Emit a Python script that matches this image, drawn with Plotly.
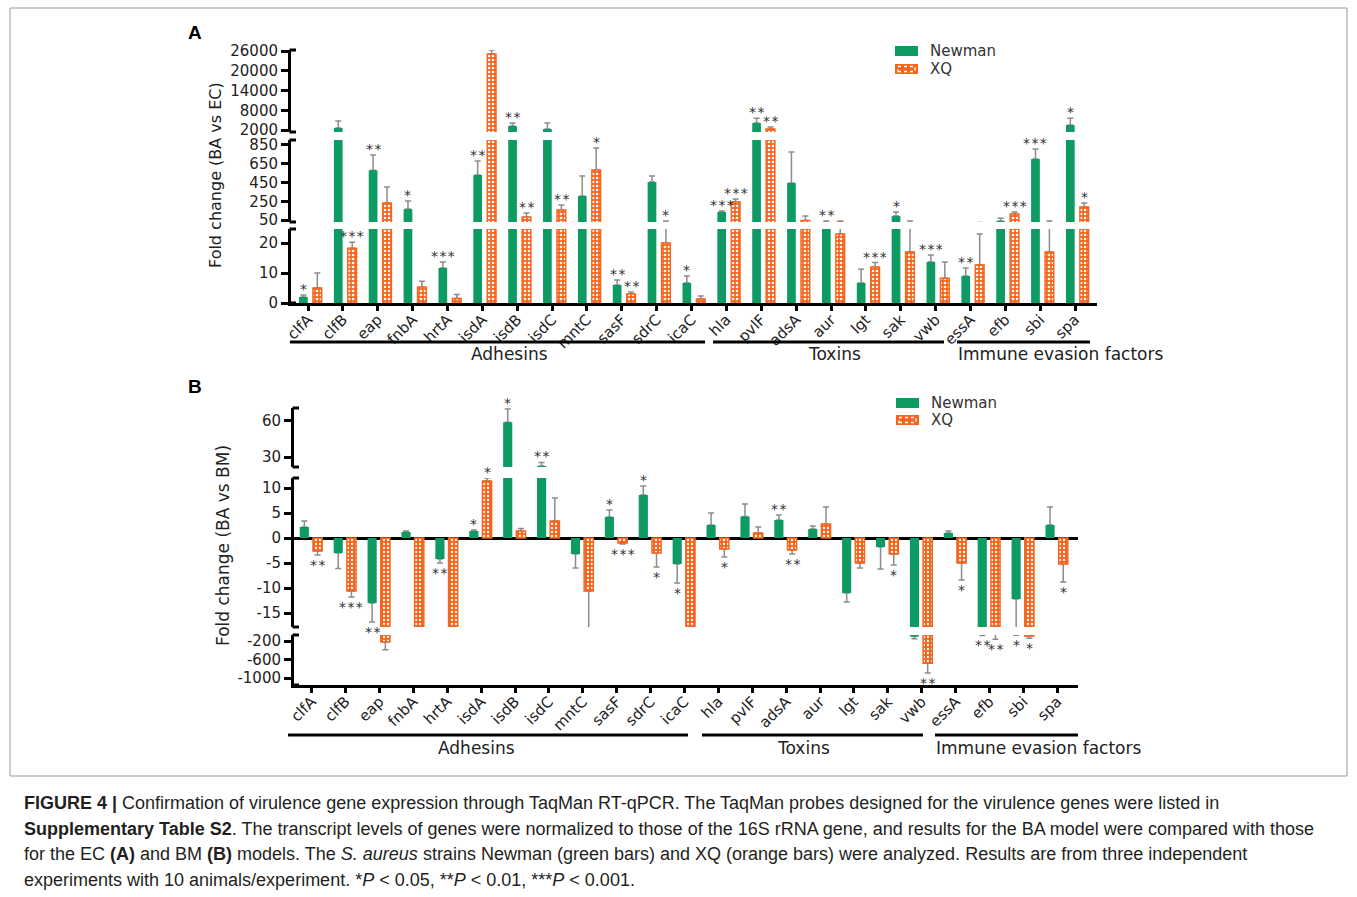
import plotly.graph_objects as go

W, H = 1357, 897

genes = ["clfA", "clfB", "eap", "fnbA", "hrtA", "isdA", "isdB", "isdC", "mntC", "sasF", "sdrC", "icaC",
         "hla", "pvlF", "adsA", "aur", "lgt", "sak", "vwb", "essA", "efb", "sbi", "spa"]

# ---- Panel A (BA vs EC) ----
a_newman = [2, 2600, 580, 167, 11.7, 530, 3200, 2300, 306, 6, 455, 6.7,
            135, 4100, 445, 27, 6.7, 92, 13.7, 9, 39, 700, 3500]
a_newman_tip = [2.7, 4740, 743, 252, 13.7, 680, 4100, 4100, 520, 7.7, 520, 9,
                145, 5600, 775, 39, 11.3, 135, 16, 11.7, 70, 807, 5600]
a_newman_sig = ["*", "", "**", "*", "***", "**", "**", "", "", "**", "", "*",
                "***", "**", "", "**", "", "*", "***", "**", "", "***", "*"]
a_xq = [5, 18.3, 231, 5.3, 1.5, 25100, 82, 156, 583, 3, 20, 1.3,
        242, 2300, 45, 23, 12, 17, 8.3, 12.7, 113, 17, 188]
a_xq_tip = [10, 20.3, 402, 7.3, 2.8, 26300, 125, 210, 818, 3.7, 39, 2.3,
            275, 2900, 93, 39, 13.5, 39, 13.7, 23, 135, 39, 231]
a_xq_sig = ["", "***", "", "", "", "", "**", "**", "*", "**", "*", "",
            "***", "**", "", "", "***", "", "", "", "***", "", "*"]

# ---- Panel B (BA vs BM) ----
b_newman = [2.2, -3, -13, 1.2, -4.2, 1.4, 59, 22.5, -3.2, 4.2, 8.6, -5.2,
            2.6, 4.3, 3.6, 1.8, -11, -1.8, -100, 1, -50, -12.2, 2.6]
b_newman_tip = [3.4, -6.1, -16.8, 1.4, -5, 1.6, 70, 25.5, -6, 5.6, 10.4, -9,
                5, 6.8, 4.6, 2.4, -12.8, -6.2, -150, 1.4, -80, -75, 6.2]
b_newman_sig = ["", "", "**", "", "**", "*", "*", "**", "", "*", "*", "*",
                "", "", "**", "", "", "", "", "", "**", "*", ""]
b_xq = [-2.6, -10.6, -220, -40, -40, 11.4, 1.4, 3.4, -10.6, -1, -3, -40,
        -2.2, 1, -2.4, 2.8, -5, -3.2, -680, -5, -50, -90, -5.2]
b_xq_tip = [-3.4, -11.8, -390, -40, -40, 12, 1.9, 8, -20, -1.2, -5.8, -40,
            -3.8, 2.2, -3.2, 6.2, -6, -5.4, -890, -8.4, -160, -140, -8.8]
b_xq_sig = ["**", "***", "", "", "", "*", "", "", "", "***", "*", "",
            "*", "", "**", "", "", "*", "**", "*", "**", "*", "*"]

a_ticks = [[0, 10, 20], [50, 250, 450, 650, 850], [2000, 8000, 14000, 20000, 26000]]
b_ticks = [[-1000, -600, -200], [-15, -10, -5, 0, 5, 10], [30, 60]]

groups = ["Adhesins", "Toxins", "Immune evasion factors"]

GREEN = "#0e9a63"
ORANGE = "#f4661f"
ERRC = "#8c8c8c"
FONT = "DejaVu Sans"
TXT = "#222222"


def px(x):
    return x / W


def py(y):
    return 1 - y / H


def ydom(top, bot):
    return [py(bot), py(top)]


panels = [
    dict(name="A", xdom=[px(291), px(1097)], xrange=[-0.49, 22.63], axis_x=291, solid=0.35,
         segs=[(ydom(229, 303), [0, 24.7], a_ticks[0]),
               (ydom(140, 222), [29, 903], a_ticks[1]),
               (ydom(50, 132), [1392, 26304], a_ticks[2])],
         series=[(a_newman, a_newman_tip, a_newman_sig, GREEN, False, -0.26, 0.25),
                 (a_xq, a_xq_tip, a_xq_sig, ORANGE, True, 0.14, 0.25)],
         seg_px=[(229, 303), (140, 222), (50, 132)]),
    dict(name="B", xdom=[px(294), px(1078)], xrange=[-0.52, 22.61], axis_x=294, solid=0.25,
         segs=[(ydom(635, 685), [-1151, -70], b_ticks[0]),
               (ydom(478, 627), [-17.8, 12], b_ticks[1]),
               (ydom(408, 467), [21.7, 70.8], b_ticks[2])],
         series=[(b_newman, b_newman_tip, b_newman_sig, GREEN, False, -0.35, 0.27),
                 (b_xq, b_xq_tip, b_xq_sig, ORANGE, True, 0.04, 0.27)],
         seg_px=[(635, 685), (478, 627), (408, 467)]),
]

fig = go.Figure()
layout = {}
annotations = []
shapes = []
idx = list(range(len(genes)))
aid = 0
for P in panels:
    sfxs = []
    for k, (dom, rng, ticks) in enumerate(P["segs"]):
        aid += 1
        sfx = "" if aid == 1 else str(aid)
        sfxs.append(sfx)
        xa = dict(domain=P["xdom"], range=P["xrange"], anchor="y" + sfx, showgrid=False,
                  zeroline=False, fixedrange=True)
        if k == 0:
            xa.update(showline=True, linecolor="black", linewidth=3, ticks="outside", ticklen=5,
                      tickwidth=2.5, tickcolor="black", tickvals=idx, ticktext=genes, tickangle=-45,
                      ticklabelstandoff=-6,
                      tickfont=dict(family=FONT, size=15, color=TXT))
        else:
            xa.update(visible=False)
        ya = dict(domain=dom, range=rng, anchor="x" + sfx, showline=True, linecolor="black",
                  linewidth=3, ticks="outside", ticklen=7, tickwidth=2.5, tickcolor="black",
                  tickvals=ticks, ticktext=[str(t) for t in ticks],
                  tickfont=dict(family=FONT, size=15, color=TXT),
                  showgrid=False, zeroline=False, fixedrange=True)
        if P["name"] == "B" and k == 1:
            ya.update(zeroline=True, zerolinecolor="black", zerolinewidth=3)
        layout["xaxis" + sfx] = xa
        layout["yaxis" + sfx] = ya

    for vals, tips, sig, color, patterned, off, wid in P["series"]:
        plus = [max(t - v, 0) for v, t in zip(vals, tips)]
        minus = [max(v - t, 0) for v, t in zip(vals, tips)]
        xs = [i + off + wid / 2 for i in idx]
        for sfx in sfxs:
            # error bars (drawn underneath the visible bars)
            fig.add_trace(go.Bar(x=idx, y=vals, offset=off, width=wid, xaxis="x" + sfx,
                                 yaxis="y" + sfx, marker=dict(color="rgba(0,0,0,0)", line=dict(width=0)),
                                 error_y=dict(type="data", symmetric=False, array=plus, arrayminus=minus,
                                              color=ERRC, thickness=1.5, width=3),
                                 showlegend=False, hoverinfo="skip"))
            if patterned:
                mk = dict(color=color, line=dict(color=color, width=1.5),
                          pattern=dict(shape=".", fillmode="replace", bgcolor=color,
                                       fgcolor="white", size=4, solidity=P["solid"]))
            else:
                mk = dict(color=color, line=dict(width=0))
            fig.add_trace(go.Bar(x=idx, y=vals, offset=off, width=wid, xaxis="x" + sfx,
                                 yaxis="y" + sfx, marker=mk, showlegend=False, hoverinfo="skip"))
        # significance stars
        for i, (v, t, s) in enumerate(zip(vals, tips, sig)):
            if not s:
                continue
            segi = None
            for k, (dom, rng, ticks) in enumerate(P["segs"]):
                if rng[0] <= t <= rng[1]:
                    segi = k
            if segi is None:
                d = [min(abs(t - r[0]), abs(t - r[1])) for (_, r, _) in P["segs"]]
                segi = d.index(min(d))
            up = v >= 0
            annotations.append(dict(
                x=xs[i], y=t, xref="x" + sfxs[segi], yref="y" + sfxs[segi],
                text="\u200a".join(list(s)), showarrow=False, xanchor="center",
                yanchor="bottom" if up else "top", yshift=-4 if up else 0,
                font=dict(family=FONT, size=14, color="#333333")))

    # axis break marks
    ax = P["axis_x"]
    for (t, b) in P["seg_px"]:
        for yy in (t, b):
            shapes.append(dict(type="line", xref="paper", yref="paper", x0=px(ax - 1.5), x1=px(ax + 5),
                               y0=py(yy), y1=py(yy), line=dict(color="black", width=3)))

# group lines + labels
grp_A = [(290, 705, 509, "center"), (713, 944, 834, "center"), (957, 1090, 956, "left")]
grp_B = [(288, 688, 476, "center"), (702, 923, 803, "center"), (935, 1078, 934, "left")]
for (grp, ly, ty) in [(grp_A, 342, 354), (grp_B, 735, 748)]:
    for (x0, x1, tx, al), name in zip(grp, groups):
        shapes.append(dict(type="line", xref="paper", yref="paper", x0=px(x0), x1=px(x1),
                           y0=py(ly), y1=py(ly), line=dict(color="black", width=3)))
        annotations.append(dict(x=px(tx), y=py(ty), xref="paper", yref="paper", text=name,
                                showarrow=False, xanchor=al, yanchor="middle",
                                font=dict(family=FONT, size=17, color=TXT)))

# legends (drawn manually)
for (x0, yg, yo) in [(895, 51, 69), (896, 403, 420)]:
    shapes.append(dict(type="rect", xref="paper", yref="paper", x0=px(x0), x1=px(x0 + 23),
                       y0=py(yg + 5), y1=py(yg - 5), fillcolor=GREEN, line=dict(width=0)))
    shapes.append(dict(type="rect", xref="paper", yref="paper", x0=px(x0), x1=px(x0 + 23),
                       y0=py(yo + 5), y1=py(yo - 5), fillcolor=ORANGE, line=dict(width=0)))
    shapes.append(dict(type="rect", xref="paper", yref="paper", x0=px(x0 + 3), x1=px(x0 + 20),
                       y0=py(yo + 2.5), y1=py(yo - 2.5), fillcolor="rgba(0,0,0,0)",
                       line=dict(color="white", width=1.5, dash="dot")))
    annotations.append(dict(x=px(x0 + 33), y=py(yg), xref="paper", yref="paper", text="Newman",
                            showarrow=False, xanchor="left", yanchor="middle",
                            font=dict(family=FONT, size=15, color="#333333")))
    annotations.append(dict(x=px(x0 + 33), y=py(yo), xref="paper", yref="paper", text="XQ",
                            showarrow=False, xanchor="left", yanchor="middle",
                            font=dict(family=FONT, size=15, color="#333333")))

# y titles
annotations.append(dict(x=px(216), y=py(175), xref="paper", yref="paper", text="Fold change (BA vs EC)",
                        textangle=-90, showarrow=False, xanchor="center", yanchor="middle",
                        font=dict(family=FONT, size=16, color=TXT)))
annotations.append(dict(x=px(223), y=py(545), xref="paper", yref="paper", text="Fold change (BA vs BM)",
                        textangle=-90, showarrow=False, xanchor="center", yanchor="middle",
                        font=dict(family=FONT, size=17, color=TXT)))

# panel letters
for lab, yy in [("A", 33), ("B", 387)]:
    annotations.append(dict(x=px(195), y=py(yy), xref="paper", yref="paper", text="<b>%s</b>" % lab,
                            showarrow=False, xanchor="center", yanchor="middle",
                            font=dict(family="Liberation Sans", size=19, color="black")))

# frame
shapes.append(dict(type="rect", xref="paper", yref="paper", x0=px(10), x1=px(1347), y0=py(776), y1=py(8),
                   line=dict(color="#9a9a9a", width=1), fillcolor="rgba(0,0,0,0)"))

caption = [
    "<b>FIGURE 4 |</b> Confirmation of virulence gene expression through TaqMan RT-qPCR. The TaqMan probes designed for the virulence genes were listed in",
    "<b>Supplementary Table S2</b>. The transcript levels of genes were normalized to those of the 16S rRNA gene, and results for the BA model were compared with those",
    "for the EC <b>(A)</b> and BM <b>(B)</b> models. The <i>S. aureus</i> strains Newman (green bars) and XQ (orange bars) were analyzed. Results are from three independent",
    "experiments with 10 animals/experiment. *<i>P</i> &lt; 0.05, **<i>P</i> &lt; 0.01, ***<i>P</i> &lt; 0.001.",
]
for line, yy in zip(caption, [803, 829, 854, 880]):
    annotations.append(dict(x=px(22), y=py(yy), xref="paper", yref="paper", text=line, showarrow=False,
                            xanchor="left", yanchor="middle",
                            font=dict(family="Liberation Sans", size=18, color="#231f20")))

fig.update_layout(width=W, height=H, autosize=False, margin=dict(l=0, r=0, t=0, b=0, pad=0, autoexpand=False),
                  paper_bgcolor="white", plot_bgcolor="rgba(0,0,0,0)", barmode="overlay",
                  showlegend=False, annotations=annotations, shapes=shapes, **layout)

fig.write_html("out.html", config={"displayModeBar": False},
               post_script="document.body.style.margin='0';document.body.style.overflow='hidden';")
